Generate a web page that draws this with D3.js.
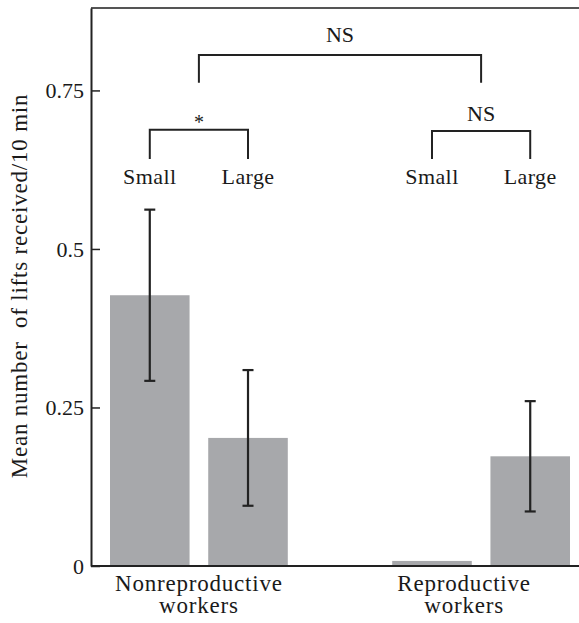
<!DOCTYPE html>
<html>
<head>
<meta charset="utf-8">
<script src="https://cdn.jsdelivr.net/npm/d3@7"></script>
<style>
  body { margin: 0; background: #fff; }
  svg text { font-family: "Liberation Serif", "Times New Roman", serif; fill: #1a1a1a; }
</style>
</head>
<body>
<div id="chart"></div>
<script>
// Data
const groups = ['Nonreproductive workers', 'Reproductive workers'];
const sizes = ['Small', 'Large'];
const means = [0.427, 0.202, 0.008, 0.173];
const errors = [0.135, 0.107, 0, 0.087];
const yTicks = [0, 0.25, 0.5, 0.75];
const yLabel = 'Mean number  of lifts received/10 min';
// Comparison brackets: [group, value of arm top, value of arm bottom, label]
const innerBrackets = [
  { group: 0, top: 0.688, bottom: 0.642, label: '*' },
  { group: 1, top: 0.686, bottom: 0.642, label: 'NS' },
];
const outerBracket = { top: 0.806, bottom: 0.762, label: 'NS' };

const rows = [];
groups.forEach((g, gi) => sizes.forEach((s, si) => {
  const i = gi * sizes.length + si;
  rows.push({ group: g, size: s, mean: means[i], err: errors[i] });
}));

const W = 579, H = 623;
const plotLeft = 91, plotRight = 579, plotTop = 8, plotBottom = 566;

const svg = d3.select('#chart').append('svg')
  .attr('width', W)
  .attr('height', H);

const y = d3.scaleLinear().domain([0, 0.88]).range([plotBottom, plotTop]);

const x0 = d3.scaleBand()
  .domain(groups)
  .range([110, 570])
  .paddingInner(0.37)
  .paddingOuter(0);

const x1 = d3.scaleBand()
  .domain(sizes)
  .range([0, x0.bandwidth()])
  .paddingInner(0.19)
  .paddingOuter(0);

const barX = (d) => x0(d.group) + x1(d.size);
const barMid = (d) => barX(d) + x1.bandwidth() / 2;

// bars
svg.append('g')
  .selectAll('rect')
  .data(rows)
  .join('rect')
  .attr('x', barX)
  .attr('width', x1.bandwidth())
  .attr('y', (d) => y(d.mean))
  .attr('height', (d) => y(0) - y(d.mean))
  .attr('fill', '#a7a8ab');

// error bars
const eb = svg.append('g')
  .attr('stroke', '#222')
  .attr('stroke-width', 2.2)
  .selectAll('g')
  .data(rows.filter((d) => d.err > 0))
  .join('g');
eb.append('line')
  .attr('x1', barMid).attr('x2', barMid)
  .attr('y1', (d) => y(d.mean + d.err))
  .attr('y2', (d) => y(d.mean - d.err));
eb.append('line')
  .attr('x1', (d) => barMid(d) - 5.5).attr('x2', (d) => barMid(d) + 5.5)
  .attr('y1', (d) => y(d.mean + d.err)).attr('y2', (d) => y(d.mean + d.err));
eb.append('line')
  .attr('x1', (d) => barMid(d) - 5.5).attr('x2', (d) => barMid(d) + 5.5)
  .attr('y1', (d) => y(d.mean - d.err)).attr('y2', (d) => y(d.mean - d.err));

// top frame line
svg.append('line')
  .attr('x1', plotLeft).attr('x2', plotRight)
  .attr('y1', plotTop).attr('y2', plotTop)
  .attr('stroke', '#555')
  .attr('stroke-width', 2);

// bottom axis line
svg.append('line')
  .attr('x1', plotLeft).attr('x2', plotRight)
  .attr('y1', plotBottom).attr('y2', plotBottom)
  .attr('stroke', '#222')
  .attr('stroke-width', 2);

// y axis, ticks pointing inward
const yAxis = svg.append('g')
  .attr('transform', `translate(${plotLeft},0)`)
  .call(d3.axisLeft(y)
    .tickValues(yTicks)
    .tickFormat((d) => String(d))
    .tickSizeInner(-9)
    .tickSizeOuter(0)
    .tickPadding(7));
yAxis.select('.domain').attr('stroke', '#222').attr('stroke-width', 2);
yAxis.selectAll('.tick line').attr('stroke', '#222').attr('stroke-width', 1.5);
yAxis.selectAll('.tick text')
  .attr('font-size', 22)
  .attr('font-family', '"Liberation Serif", serif')
  .attr('fill', '#1a1a1a');

// y label
svg.append('text')
  .attr('transform', 'rotate(-90)')
  .attr('x', -286)
  .attr('y', 27)
  .attr('text-anchor', 'middle')
  .attr('font-size', 23)
  .attr('letter-spacing', 0.8)
  .style('white-space', 'pre')
  .text(yLabel);

// category labels
const catLabelDx = [0, -17];
groups.forEach((g, gi) => {
  const words = g.split(' ');
  const t = svg.append('text')
    .attr('text-anchor', 'middle')
    .attr('font-size', 23)
    .attr('letter-spacing', 0.8);
  words.forEach((w, wi) => {
    t.append('tspan')
      .attr('x', x0(g) + x0.bandwidth() / 2 + catLabelDx[gi])
      .attr('y', 591 + wi * 22)
      .text(w);
  });
});

// size labels above each group
rows.forEach((d) => {
  svg.append('text')
    .attr('x', barMid(d))
    .attr('y', 184)
    .attr('text-anchor', 'middle')
    .attr('font-size', 22)
    .attr('letter-spacing', 0.4)
    .text(d.size);
});

// brackets
const bracketG = svg.append('g')
  .attr('fill', 'none')
  .attr('stroke', '#222')
  .attr('stroke-width', 2);

innerBrackets.forEach((b) => {
  const g = groups[b.group];
  const xa = x0(g) + x1(sizes[0]) + x1.bandwidth() / 2;
  const xb = x0(g) + x1(sizes[1]) + x1.bandwidth() / 2;
  bracketG.append('path')
    .attr('d', `M${xa},${y(b.bottom)}V${y(b.top)}H${xb}V${y(b.bottom)}`);
  const isStar = b.label === '*';
  svg.append('text')
    .attr('x', (xa + xb) / 2)
    .attr('y', isStar ? y(b.top) - 1 : y(b.top) - 10)
    .attr('text-anchor', 'middle')
    .attr('font-size', isStar ? 20 : 22)
    .text(b.label);
});

{
  const xa = x0(groups[0]) + x0.bandwidth() / 2;
  const xb = x0(groups[1]) + x0.bandwidth() / 2;
  bracketG.append('path')
    .attr('d', `M${xa},${y(outerBracket.bottom)}V${y(outerBracket.top)}H${xb}V${y(outerBracket.bottom)}`);
  svg.append('text')
    .attr('x', (xa + xb) / 2)
    .attr('y', y(outerBracket.top) - 13)
    .attr('text-anchor', 'middle')
    .attr('font-size', 22)
    .text(outerBracket.label);
}
</script>
</body>
</html>
